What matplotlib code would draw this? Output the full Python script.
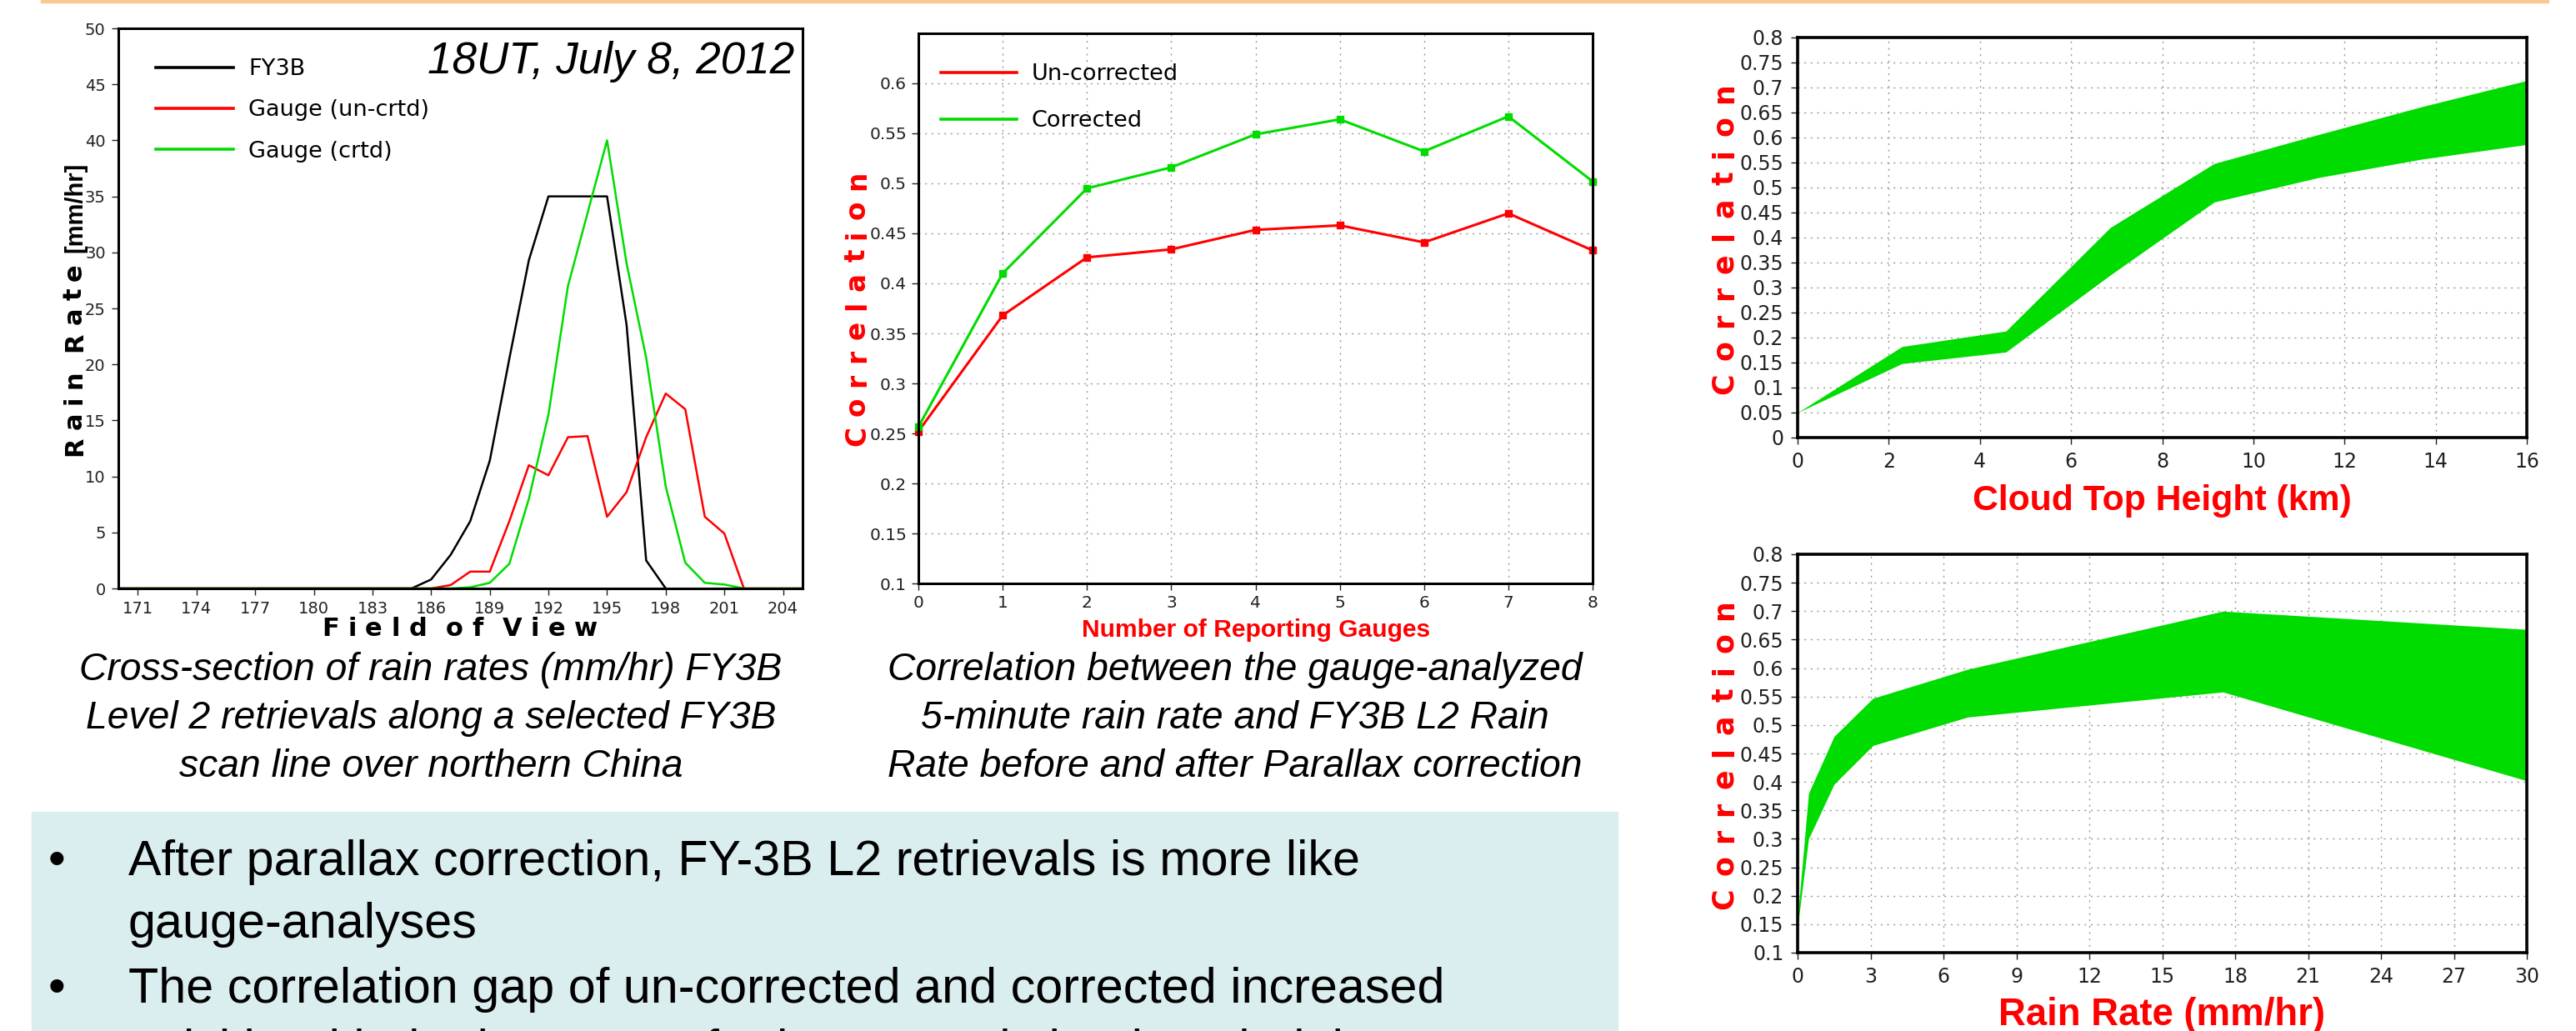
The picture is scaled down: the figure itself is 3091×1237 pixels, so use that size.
import matplotlib
matplotlib.use('Agg')
import matplotlib.pyplot as plt
from matplotlib.patches import Rectangle

# ---------------- data ----------------
# Panel 1: cross-section of rain rate along scan line
fov_fy3b = [170, 185, 186, 187, 188, 189, 190, 191, 192, 193, 194, 195, 196, 197, 198]
rr_fy3b = [0, 0, 0.8, 3.0, 6.0, 11.4, 20.5, 29.3, 35, 35, 35, 35, 23.5, 2.5, 0]

fov_uncrtd = [170, 186, 187, 188, 189, 190, 191, 192, 193, 194, 195, 196, 197, 198, 199, 200, 201, 202, 205]
rr_uncrtd = [0, 0, 0.3, 1.5, 1.5, 6.0, 11.0, 10.1, 13.5, 13.6, 6.4, 8.6, 13.5, 17.4, 16.0, 6.4, 4.9, 0, 0]

fov_crtd = [170, 187, 188, 189, 190, 191, 192, 193, 194, 195, 196, 197, 198, 199, 200, 201, 202, 205]
rr_crtd = [0, 0, 0.1, 0.5, 2.2, 8.0, 15.5, 27.0, 33.5, 40.0, 29.0, 20.6, 9.1, 2.3, 0.5, 0.35, 0, 0]

fov_ticks = [171, 174, 177, 180, 183, 186, 189, 192, 195, 198, 201, 204]
rr_ticks = [0, 5, 10, 15, 20, 25, 30, 35, 40, 45, 50]

# Panel 2: correlation vs number of reporting gauges
n_gauges = [0, 1, 2, 3, 4, 5, 6, 7, 8]
corr_uncorrected = [0.252, 0.368, 0.426, 0.434, 0.4535, 0.458, 0.441, 0.470, 0.433]
corr_corrected = [0.2565, 0.410, 0.495, 0.516, 0.549, 0.564, 0.532, 0.567, 0.502]
p2_yticks = [0.1, 0.15, 0.2, 0.25, 0.3, 0.35, 0.4, 0.45, 0.5, 0.55, 0.6]
p2_ylabels = ['0.1', '0.15', '0.2', '0.25', '0.3', '0.35', '0.4', '0.45', '0.5', '0.55', '0.6']

# Panel 3: correlation band vs cloud top height
cth_km = [0, 2.29, 4.57, 6.86, 9.14, 11.43, 13.71, 16]
cth_corr_upper = [0.050, 0.182, 0.213, 0.420, 0.548, 0.606, 0.662, 0.714]
cth_corr_lower = [0.050, 0.148, 0.171, 0.325, 0.471, 0.520, 0.557, 0.586]
p3_xticks = [0, 2, 4, 6, 8, 10, 12, 14, 16]
p3_yticks = [0, 0.05, 0.1, 0.15, 0.2, 0.25, 0.3, 0.35, 0.4, 0.45, 0.5, 0.55, 0.6, 0.65, 0.7, 0.75, 0.8]
p3_ylabels = ['0', '0.05', '0.1', '0.15', '0.2', '0.25', '0.3', '0.35', '0.4', '0.45', '0.5',
              '0.55', '0.6', '0.65', '0.7', '0.75', '0.8']

# Panel 4: correlation band vs rain rate
rain_rate = [0, 0.45, 1.5, 3.1, 7.0, 17.5, 30]
rr_corr_upper = [0.162, 0.380, 0.480, 0.547, 0.598, 0.700, 0.668]
rr_corr_lower = [0.146, 0.300, 0.396, 0.464, 0.514, 0.558, 0.402]
p4_xticks = [0, 3, 6, 9, 12, 15, 18, 21, 24, 27, 30]
p4_yticks = [0.1, 0.15, 0.2, 0.25, 0.3, 0.35, 0.4, 0.45, 0.5, 0.55, 0.6, 0.65, 0.7, 0.75, 0.8]
p4_ylabels = ['0.1', '0.15', '0.2', '0.25', '0.3', '0.35', '0.4', '0.45', '0.5', '0.55', '0.6',
              '0.65', '0.7', '0.75', '0.8']

caption1 = ["Cross-section of rain rates (mm/hr) FY3B",
            "Level 2 retrievals along a selected FY3B",
            "scan line over northern China"]
caption2 = ["Correlation between the gauge-analyzed",
            "5-minute rain rate and FY3B L2 Rain",
            "Rate before and after Parallax correction"]
bullets = ["After parallax correction, FY-3B L2 retrievals is more like",
           "gauge-analyses",
           "The correlation gap of un-corrected and corrected increased",
           "quickly with the increase of rain rate and cloud top height"]

# ---------------- figure ----------------
W, H = 3091, 1237
DPI = 100
fig = plt.figure(figsize=(W / DPI, H / DPI), dpi=DPI)
fig.patch.set_facecolor('white')

RED = '#ff0000'
GREEN = '#00dc00'
TICKFONT = ['DejaVu Sans']
LABFONT = ['DejaVu Sans']
SLIDEFONT = ['Liberation Sans', 'DejaVu Sans']


def px_axes(l, t, r, b):
    return fig.add_axes([l / W, 1 - b / H, (r - l) / W, (b - t) / H])


def fx(x):
    return x / W


def fy(y):
    return 1 - y / H


renderer = fig.canvas.get_renderer()


def fit(t, target, vertical=False):
    bb = t.get_window_extent(renderer)
    w = bb.height if vertical else bb.width
    t.set_fontsize(t.get_fontsize() * target / w)
    return t.get_fontsize()


def ink_width(ch, size, weight, family):
    tt = fig.text(0, 0, ch, fontsize=size, weight=weight, family=family)
    w = tt.get_window_extent(renderer).width
    tt.remove()
    return w


def tracked(words, start, end, base, size, color, vertical=False, weight='bold',
            family=LABFONT, word_gap=2.6):
    """Letter-spaced label: letters spread from start to end (px) along the text direction."""
    widths = [[ink_width(c, size, weight, family) for c in wd] for wd in words]
    natural = sum(sum(w) for w in widths)
    n_gaps = sum(len(wd) - 1 for wd in words)
    n_wgaps = len(words) - 1
    total = abs(end - start)
    g = (total - natural) / (n_gaps + word_gap * n_wgaps)
    pos = 0.0
    for wi, wd in enumerate(words):
        for ci, c in enumerate(wd):
            if vertical:
                fig.text(fx(base), fy(start - pos), c, rotation=90, rotation_mode='anchor',
                         ha='left', va='baseline', fontsize=size, weight=weight,
                         family=family, color=color)
            else:
                fig.text(fx(start + pos), fy(base), c, ha='left', va='baseline',
                         fontsize=size, weight=weight, family=family, color=color)
            pos += widths[wi][ci]
            if ci < len(wd) - 1:
                pos += g
        pos += g * word_gap


def style_axes(ax, lw=2.2, tsize=14, pad=5):
    for s in ax.spines.values():
        s.set_linewidth(lw)
        s.set_color('black')
    ax.tick_params(direction='out', length=6, width=1.0, labelsize=tsize, pad=pad,
                   colors='#222222')
    for lab in ax.get_xticklabels() + ax.get_yticklabels():
        lab.set_family(TICKFONT)


# slide decorations
fig.patches.append(Rectangle((fx(49), fy(3)), (3058 - 49) / W, 3 / H,
                             transform=fig.transFigure, color='#fac890', zorder=0))
fig.patches.append(Rectangle((fx(38), 0), (1941 - 38) / W, (H - 974) / H,
                             transform=fig.transFigure, color='#daedef', zorder=0))

# ---------------- Panel 1 ----------------
ax1 = px_axes(142, 34, 963, 706)
ax1.plot(fov_fy3b, rr_fy3b, color='black', lw=1.8, label='FY3B')
ax1.plot(fov_uncrtd, rr_uncrtd, color=RED, lw=1.8, label='Gauge (un-crtd)')
ax1.plot(fov_crtd, rr_crtd, color=GREEN, lw=1.8, label='Gauge (crtd)')
ax1.set_xlim(170, 205)
ax1.set_ylim(0, 50)
ax1.set_xticks(fov_ticks)
ax1.set_yticks(rr_ticks)
style_axes(ax1, tsize=14, pad=5)
leg1 = ax1.legend(loc='upper left', bbox_to_anchor=(fx(187), fy(70)),
                  bbox_transform=fig.transFigure, frameon=False, borderpad=0,
                  borderaxespad=0, handlelength=3.44, handletextpad=0.67,
                  labelspacing=0.86, prop={'family': LABFONT, 'size': 19.5})
for ln in leg1.get_lines():
    ln.set_linewidth(2.6)

t = fig.text(fx(953), fy(88), "18UT, July 8, 2012", ha='right', va='baseline',
             style='italic', family=SLIDEFONT, fontsize=38)
fit(t, 440)

tracked(["Rain", "Rate"], 547, 316, 98, 22, 'black', vertical=True)
t = fig.text(fx(98), fy(303), "[mm/hr]", rotation=90, rotation_mode='anchor', ha='left',
             va='baseline', family=SLIDEFONT, weight='bold', fontsize=20)
fit(t, 108, vertical=True)
tracked(["Field", "of", "View"], 386, 717, 763, 22, 'black', word_gap=2.2)

# ---------------- Panel 2 ----------------
ax2 = px_axes(1102, 40, 1911, 700)
ax2.set_axisbelow(True)
ax2.grid(True, color='#999999', lw=1.0, linestyle=(0, (1.5, 4)))
ax2.plot(n_gauges, corr_uncorrected, color=RED, lw=2.2, marker='s', ms=6,
         label='Un-corrected', clip_on=False)
ax2.plot(n_gauges, corr_corrected, color=GREEN, lw=2.2, marker='s', ms=6,
         label='Corrected', clip_on=False)
ax2.set_xlim(0, 8)
ax2.set_ylim(0.1, 0.65)
ax2.set_xticks(n_gauges)
ax2.set_yticks(p2_yticks)
ax2.set_yticklabels(p2_ylabels)
style_axes(ax2, tsize=14.5, pad=4)
leg2 = ax2.legend(loc='upper left', bbox_to_anchor=(fx(1129), fy(76)),
                  bbox_transform=fig.transFigure, frameon=False, borderpad=0,
                  borderaxespad=0, handlelength=3.37, handletextpad=0.63,
                  labelspacing=1.12, prop={'family': LABFONT, 'size': 19.5})
for ln in leg2.get_lines():
    ln.set_linewidth(2.6)
    ln.set_marker('')

tracked(["Correlation"], 535, 205, 1038, 23.5, RED, vertical=True)
t = fig.text(fx(1507), fy(764), "Number of Reporting Gauges", ha='center', va='baseline',
             family=SLIDEFONT, weight='bold', color=RED, fontsize=20)
fit(t, 418)

# ---------------- Panel 3 ----------------
ax3 = px_axes(2157, 45, 3032, 525)
ax3.set_axisbelow(True)
ax3.grid(True, color='#999999', lw=1.0, linestyle=(0, (1.5, 4)))
ax3.fill_between(cth_km, cth_corr_lower, cth_corr_upper, color=GREEN, lw=0)
ax3.set_xlim(0, 16)
ax3.set_ylim(0, 0.8)
ax3.set_xticks(p3_xticks)
ax3.set_yticks(p3_yticks)
ax3.set_yticklabels(p3_ylabels)
style_axes(ax3, lw=2.6, tsize=17, pad=6)

tracked(["Correlation"], 473, 99, 2079, 25, RED, vertical=True)
t = fig.text(fx(2594), fy(612), "Cloud Top Height (km)", ha='center', va='baseline',
             family=SLIDEFONT, weight='bold', color=RED, fontsize=22)
fit(t, 454)

# ---------------- Panel 4 ----------------
ax4 = px_axes(2157, 665, 3032, 1143)
ax4.set_axisbelow(True)
ax4.grid(True, color='#999999', lw=1.0, linestyle=(0, (1.5, 4)))
ax4.fill_between(rain_rate, rr_corr_lower, rr_corr_upper, color=GREEN, lw=0)
ax4.set_xlim(0, 30)
ax4.set_ylim(0.1, 0.8)
ax4.set_xticks(p4_xticks)
ax4.set_yticks(p4_yticks)
ax4.set_yticklabels(p4_ylabels)
style_axes(ax4, lw=2.6, tsize=17, pad=6)

tracked(["Correlation"], 1091, 719, 2079, 25, RED, vertical=True)
t = fig.text(fx(2594), fy(1230), "Rain Rate (mm/hr)", ha='center', va='baseline',
             family=SLIDEFONT, weight='bold', color=RED, fontsize=22)
fit(t, 391)

# ---------------- captions ----------------
cap_base = [816, 874, 932]
t0 = fig.text(fx(517), fy(cap_base[0]), caption1[0], ha='center', va='baseline',
              style='italic', family=SLIDEFONT, fontsize=33)
cs = fit(t0, 845)
for line, yb in zip(caption1[1:], cap_base[1:]):
    fig.text(fx(517), fy(yb), line, ha='center', va='baseline', style='italic',
             family=SLIDEFONT, fontsize=cs)
for line, yb in zip(caption2, cap_base):
    fig.text(fx(1482), fy(yb), line, ha='center', va='baseline', style='italic',
             family=SLIDEFONT, fontsize=cs)

# ---------------- bullets ----------------
b_base = [1050, 1125, 1203, 1277]
tb = fig.text(fx(154), fy(b_base[0]), bullets[0], ha='left', va='baseline',
              family=SLIDEFONT, fontsize=45)
bs = fit(tb, 1478)
for line, yb in zip(bullets[1:], b_base[1:]):
    fig.text(fx(154), fy(yb), line, ha='left', va='baseline', family=SLIDEFONT, fontsize=bs)
for yb in (b_base[0], b_base[2]):
    fig.text(fx(68), fy(yb), "\u2022", ha='center', va='baseline', family=SLIDEFONT,
             fontsize=bs)

fig.savefig('out.png', dpi=DPI)
